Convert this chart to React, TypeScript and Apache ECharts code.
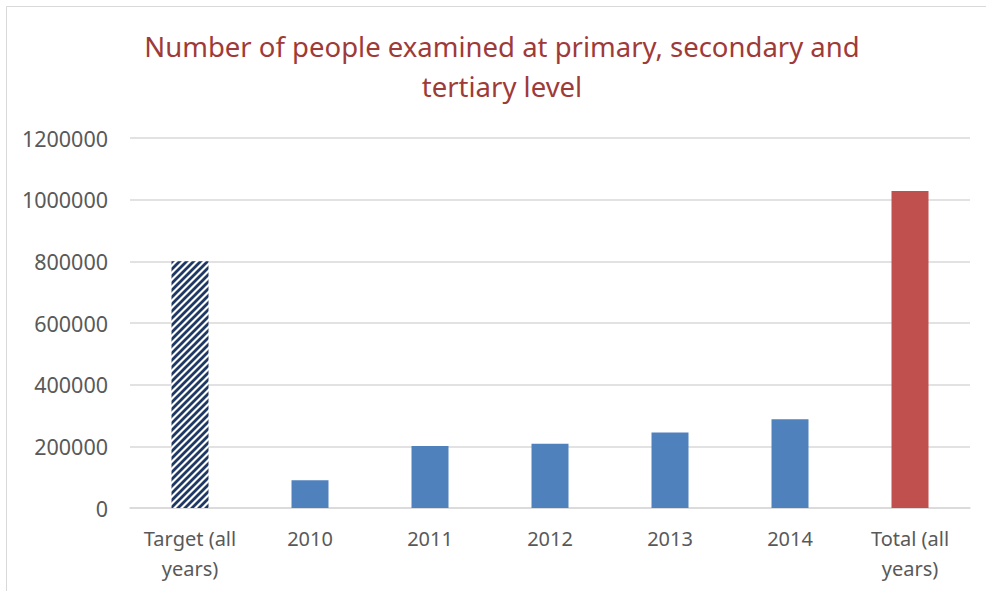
import React, { useEffect, useRef } from "react";
import * as echarts from "echarts";

const categories = ["Target (all years)", "2010", "2011", "2012", "2013", "2014", "Total (all years)"];
const values = [800000, 90000, 201000, 208000, 245000, 288000, 1028000];
const yTicks = { min: 0, max: 1200000, interval: 200000 };
const titleText = "Number of people examined at primary, secondary and\ntertiary level";

const FONT = "'Noto Sans', 'Liberation Sans', sans-serif";

function makeHatch(): HTMLCanvasElement {
  const c = document.createElement("canvas");
  const s = 7;
  c.width = s;
  c.height = s;
  const ctx = c.getContext("2d")!;
  ctx.fillStyle = "#ffffff";
  ctx.fillRect(0, 0, s, s);
  ctx.strokeStyle = "#1F3864";
  ctx.lineWidth = 2.8;
  ctx.beginPath();
  ctx.moveTo(0, s);
  ctx.lineTo(s, 0);
  ctx.moveTo(-s, s);
  ctx.lineTo(0, 0);
  ctx.moveTo(s, 2 * s);
  ctx.lineTo(2 * s, s);
  ctx.moveTo(-1, 1);
  ctx.lineTo(1, -1);
  ctx.moveTo(s - 1, s + 1);
  ctx.lineTo(s + 1, s - 1);
  ctx.stroke();
  return c;
}

export default function App() {
  const ref = useRef<HTMLDivElement>(null);
  useEffect(() => {
    document.body.style.margin = "0";
    const chart = echarts.init(ref.current!, undefined, { renderer: "svg" });
    const hatch = makeHatch();
    const colors: any[] = [
      { image: hatch, repeat: "repeat" },
      "#4F81BD",
      "#4F81BD",
      "#4F81BD",
      "#4F81BD",
      "#4F81BD",
      "#C0504D",
    ];
    chart.setOption({
      animation: false,
      backgroundColor: "#ffffff",
      title: {
        text: titleText,
        left: 497,
        textAlign: "center",
        top: 21,
        textStyle: {
          color: "#9E3A38",
          fontFamily: FONT,
          fontSize: 27.5,
          fontWeight: "normal",
          lineHeight: 40,
        },
      },
      graphic: [
        {
          type: "rect",
          shape: { x: 6.5, y: 6.5, width: 1000, height: 700 },
          style: { fill: "none", stroke: "#D9D9D9", lineWidth: 1 },
          silent: true,
        },
      ],
      grid: { left: 130, right: 16, top: 138, bottom: 83 },
      xAxis: {
        type: "category",
        data: categories,
        axisLine: { lineStyle: { color: "#D9D9D9", width: 1.5 } },
        axisTick: { show: false },
        axisLabel: {
          color: "#595959",
          fontFamily: FONT,
          fontSize: 20,
          lineHeight: 30,
          margin: 15,
          interval: 0,
          formatter: (v: string) => {
            if (v.length > 6) {
              const i = v.lastIndexOf(" ");
              return v.slice(0, i) + "\n" + v.slice(i + 1);
            }
            return v;
          },
        },
      },
      yAxis: {
        type: "value",
        min: yTicks.min,
        max: yTicks.max,
        interval: yTicks.interval,
        axisLine: { show: false },
        axisTick: { show: false },
        splitLine: { lineStyle: { color: "#D9D9D9", width: 1.5 } },
        axisLabel: {
          color: "#595959",
          fontFamily: FONT,
          fontSize: 21.5,
          margin: 22,
          formatter: (v: number) => String(v),
        },
      },
      series: [
        {
          type: "bar",
          barWidth: 37,
          data: values.map((v, i) => ({ value: v, itemStyle: { color: colors[i] } })),
        },
      ],
    });
    return () => chart.dispose();
  }, []);
  return <div ref={ref} style={{ width: 986, height: 591 }} />;
}
